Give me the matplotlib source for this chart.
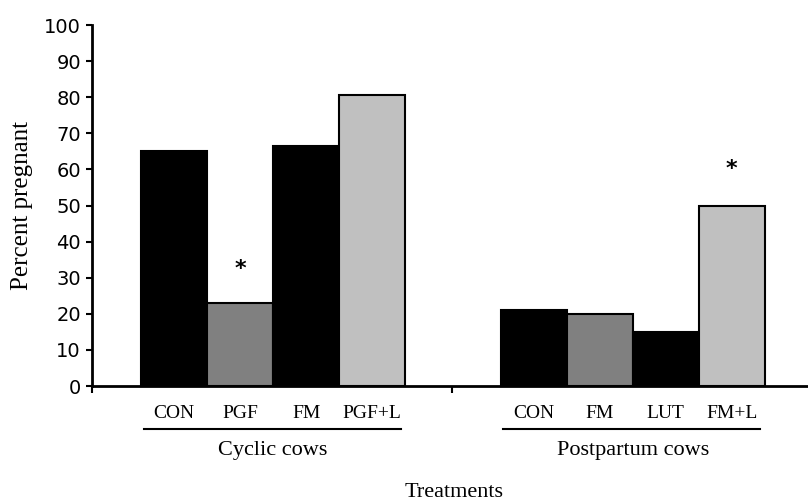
import matplotlib.pyplot as plt

groups = ["Cyclic cows", "Postpartum cows"]
cyclic_labels = ["CON", "PGF", "FM", "PGF+L"]
cyclic_values = [65, 23, 66.5, 80.5]
postpartum_labels = ["CON", "FM", "LUT", "FM+L"]
postpartum_values = [21, 20, 15, 50]
# asterisks: (group index, bar index, height)
stars = [(0, 1, 32.5), (1, 3, 60)]

bar_colors = ["#000000", "#808080", "#000000", "#c0c0c0"]
serif = "Liberation Serif"

fig = plt.figure(figsize=(8.08, 5.03), dpi=100)
ax = fig.add_axes([92 / 808, 117 / 503, 716 / 808, 361 / 503])

group_w = 5.45
all_labels = [cyclic_labels, postpartum_labels]
all_values = [cyclic_values, postpartum_values]
xt = ax.get_xaxis_transform()

for g, (labels, values) in enumerate(zip(all_labels, all_values)):
    center = group_w * g + group_w / 2 + 0.02
    xs = [center - 1.5 + i for i in range(len(values))]
    ax.bar(xs, values, width=1.0, color=bar_colors, edgecolor="black",
           linewidth=1.5, zorder=2)
    for x, lab in zip(xs, labels):
        ax.text(x, -0.075, lab, transform=xt, ha="center", va="center",
                fontsize=14, family=serif)
    ax.plot([xs[0] - 0.46, xs[-1] + 0.43], [-0.119, -0.119], transform=xt,
            color="black", linewidth=1.5, clip_on=False)
    ax.text(center, -0.18, groups[g], transform=xt, ha="center", va="center",
            fontsize=16, family=serif)

for g, i, h in stars:
    x = group_w * g + group_w / 2 + 0.02 - 1.5 + i
    ax.text(x, h, "*", ha="center", va="center", fontsize=16,
            fontweight="bold", family="DejaVu Sans")

ax.text(0.506, -0.294, "Treatments", transform=ax.transAxes, ha="center",
        va="center", fontsize=16, family=serif)
ax.set_ylabel("Percent pregnant", fontsize=18, family=serif, labelpad=8)

ax.set_xlim(0, 10.85)
ax.set_ylim(0, 100)
ax.set_yticks(range(0, 101, 10))
ax.set_xticks([0, group_w])
ax.set_xticklabels([])
ax.tick_params(axis="y", labelsize=14, length=4, width=1.5, pad=4)
ax.tick_params(axis="x", length=5, width=1.5)
for s in ["top", "right"]:
    ax.spines[s].set_visible(False)
for s in ["left", "bottom"]:
    ax.spines[s].set_linewidth(2)

fig.savefig("out.png", dpi=100)
